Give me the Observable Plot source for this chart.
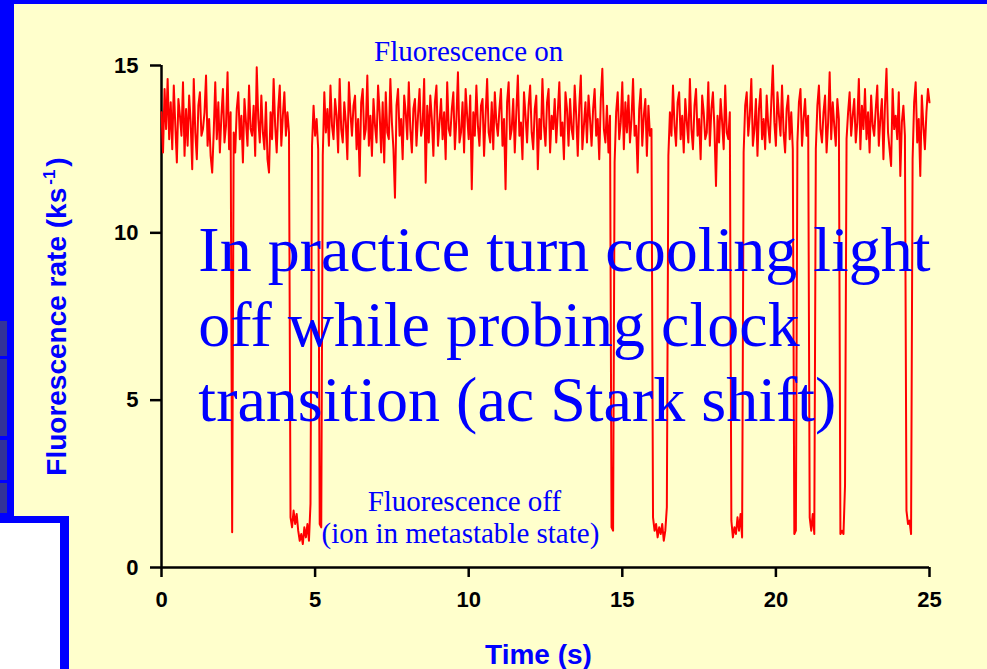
<!DOCTYPE html>
<html><head><meta charset="utf-8">
<script src="https://cdn.jsdelivr.net/npm/d3@7"></script>
<script src="https://cdn.jsdelivr.net/npm/@observablehq/plot@0.6"></script>
<style>
html,body{margin:0;padding:0;background:#ffffcc;width:987px;height:669px;overflow:hidden}
#slide{position:relative;width:987px;height:669px;background:#ffffcc}
.deco{position:absolute}
#chart{position:absolute;left:0;top:0}
#chart svg g[aria-label="x-axis tick label"],#chart svg g[aria-label="y-axis tick label"]{font-weight:bold;font-size:22px;font-family:"Liberation Sans",Arial,sans-serif}
</style></head>
<body>
<div id="slide">
  <div class="deco" style="left:0;top:0;width:987px;height:4px;background:#0000ff"></div>
  <div class="deco" style="left:0;top:0;width:14px;height:523px;background:#0000ff"></div>
  <div class="deco" style="left:0;top:321px;width:7px;height:192px;background:#333399"></div>
  <div class="deco" style="left:0;top:356px;width:7px;height:3px;background:#0000ff"></div>
  <div class="deco" style="left:0;top:436px;width:7px;height:4px;background:#0000ff"></div>
  <div class="deco" style="left:0;top:480px;width:7px;height:3px;background:#0000ff"></div>
  <div class="deco" style="left:0;top:516px;width:69px;height:153px;background:#0000ff"></div>
  <div class="deco" style="left:0;top:523px;width:60px;height:146px;background:#ffffff"></div>
  <div id="chart"></div>
</div>
<script>
// sampling interval of the trace (s)
const step = 0.05;
// fluorescence rate (ks^-1), one row per second
const rate = [
 13.6,12.4,14.3,13.1,14.6,12.8,13.9,12.5,14.4,13.2,12.1,14.0,13.5,12.9,14.5,12.3,13.7,12.6,14.1,13.3,
 11.9,14.6,13.0,12.2,13.8,14.2,12.9,13.1,13.6,14.7,12.6,13.4,12.3,11.8,13.0,14.5,12.8,13.9,12.4,13.5,
 14.3,12.7,13.2,14.8,12.5,13.6,1.05,13.0,12.4,13.7,14.2,12.8,13.5,12.1,14.0,13.3,12.6,14.4,13.1,12.9,
 13.8,12.3,14.95,13.4,12.7,14.1,13.0,12.5,13.9,12.2,11.8,13.6,12.8,14.6,13.2,12.4,13.7,14.4,12.6,13.5,
 14.2,12.9,13.6,13.0,1.5,1.2,1.7,1.3,1.6,1.1,0.8,1.0,0.7,1.2,0.9,1.3,0.8,1.9,12.6,13.8,
 12.9,13.4,12.5,1.3,1.2,12.3,14.2,13.0,13.7,12.6,14.4,13.2,12.8,14.0,13.5,12.4,14.6,13.1,12.7,13.9,
 13.3,12.2,14.5,13.6,12.9,13.8,14.1,12.5,13.4,11.7,13.9,14.3,12.8,13.1,14.7,12.6,13.5,12.3,14.0,13.2,
 12.7,14.4,13.6,12.4,13.9,12.1,14.2,13.0,12.8,14.6,13.3,12.5,11.05,13.8,14.3,12.9,13.4,12.2,14.1,13.6,
 12.8,14.5,13.1,12.4,13.7,14.0,12.6,13.5,14.3,12.9,13.2,14.6,11.5,13.8,12.7,14.1,13.4,12.3,13.9,14.4,
 12.6,13.3,14.0,12.8,13.6,12.2,14.5,13.1,12.9,13.7,14.2,12.5,13.4,14.8,12.7,13.0,13.9,12.4,14.3,13.5,
 12.8,14.1,11.3,13.6,12.9,14.4,13.2,12.6,13.8,14.0,12.3,13.5,14.6,13.0,12.7,13.9,12.5,14.2,13.3,12.9,
 13.7,14.3,12.6,13.4,11.3,13.9,14.5,12.8,13.1,14.0,12.4,13.6,14.7,12.9,13.3,12.2,14.2,13.5,12.7,13.8,
 14.4,13.0,12.5,13.7,14.1,11.9,13.4,12.8,14.6,13.2,12.6,13.9,14.3,12.4,13.5,13.1,14.0,12.7,13.6,14.5,
 12.9,13.3,12.2,14.2,13.7,12.6,14.0,13.1,12.8,14.4,13.5,12.3,13.8,14.7,12.5,13.2,13.9,12.7,14.1,13.4,
 12.6,13.7,14.3,12.9,13.4,12.2,14.0,14.9,13.1,12.7,13.8,12.4,13.5,1.2,1.1,12.1,13.6,14.2,12.8,13.3,
 14.5,12.5,13.9,13.0,14.1,12.7,13.4,14.6,12.9,13.2,11.8,13.7,14.3,12.6,13.5,14.0,12.3,13.8,12.9,13.1,
 1.5,1.1,1.3,0.9,1.2,1.0,1.3,0.8,1.1,1.8,12.3,13.6,12.9,14.4,13.2,12.6,13.9,14.2,12.8,13.5,
 12.4,14.0,13.3,12.7,14.6,13.1,12.5,13.8,14.3,12.9,13.4,12.2,14.1,13.6,12.8,13.0,14.5,12.6,13.7,14.2,
 13.1,11.4,13.5,12.7,14.0,13.3,12.5,14.4,13.0,12.8,13.6,1.4,0.9,1.2,1.0,1.5,1.1,1.6,0.9,12.4,
 13.8,14.2,12.9,13.5,14.6,12.6,13.1,14.0,12.3,13.7,14.3,12.8,13.4,12.5,14.1,13.2,12.7,13.9,15.0,13.3,
 12.6,14.2,13.5,12.9,14.4,13.0,12.4,13.7,14.1,12.8,13.6,12.5,1.0,1.1,12.7,13.9,14.3,12.6,13.4,14.0,
 12.9,13.5,1.5,1.1,1.6,1.0,12.5,13.8,14.4,13.1,12.7,13.6,14.1,12.4,13.3,14.8,12.8,13.9,13.2,12.6,
 14.0,13.4,1.0,1.1,1.0,2.45,12.8,13.6,14.2,12.9,13.5,14.0,12.7,13.3,14.6,12.5,13.8,13.1,14.3,12.8,
 13.6,12.4,14.1,13.2,12.9,13.7,14.4,12.6,13.4,14.0,12.2,13.8,14.9,13.0,12.5,12.0,14.3,13.1,13.5,12.8,
 14.2,11.7,13.3,13.8,12.9,1.7,1.3,1.4,1.0,12.2,13.9,14.5,12.7,13.4,11.7,14.1,13.2,12.5,13.6,14.3,
 13.9
];
const xTicks = [0, 5, 10, 15, 20, 25];
const yTicks = [0, 5, 10, 15];
const xLabel = "Time (s)";
const yLabel = "Fluorescence rate (ks-1)";
// slide annotations (text, anchor position in data units)
const smallNotes = ["Fluorescence on", "Fluorescence off", "(ion in metastable state)"];
const smallNoteX = [10.0, 9.86, 9.73];
const smallNoteY = [15.12, 1.70, 0.72];
const bigLines = ["In practice turn cooling light", "off while probing clock", "transition (ac Stark shift)"];
const bigLineX = [1.2, 1.2, 1.2];
const bigLineY = [8.87, 6.63, 4.39];

const trace = rate.map((v, i) => ({t: i * step, v}));
const small = smallNotes.map((s, i) => ({text: s, x: smallNoteX[i], y: smallNoteY[i]}));
const big = bigLines.map((s, i) => ({text: s, x: bigLineX[i], y: bigLineY[i]}));
const serif = "'Liberation Serif','Times New Roman',Times,serif";
const sans = "'Liberation Sans',Arial,Helvetica,sans-serif";

const chart = Plot.plot({
  width: 987, height: 669,
  marginLeft: 161, marginRight: 58, marginTop: 65, marginBottom: 102,
  x: {domain: [0, 25]},
  y: {domain: [0, 15]},
  style: {background: "transparent", fontFamily: sans, color: "black", overflow: "visible"},
  marks: [
    Plot.axisY({ticks: yTicks, tickSize: 11, tickPadding: 12, fontSize: 22, fontWeight: "bold", strokeWidth: 2.5, label: null}),
    Plot.axisX({ticks: xTicks, tickSize: 10, tickPadding: 14, fontSize: 22, fontWeight: "bold", strokeWidth: 2.5, label: null}),
    Plot.ruleX([0], {stroke: "black", strokeWidth: 2.5}),
    Plot.ruleY([0], {stroke: "black", strokeWidth: 2.5}),
    Plot.line(trace, {x: "t", y: "v", stroke: "#ff0000", strokeWidth: 2}),
    Plot.text(small, {x: "x", y: "y", text: "text", fill: "#0000ff", fontSize: 29, fontFamily: serif, textAnchor: "middle", lineAnchor: "bottom"}),
    Plot.text(big, {x: "x", y: "y", text: "text", fill: "#0000ff", fontSize: 64, fontFamily: serif, textAnchor: "start", lineAnchor: "bottom"}),
    Plot.text([xLabel], {frameAnchor: "bottom", dx: -7, dy: 96, lineAnchor: "bottom", textAnchor: "middle", fill: "#0000ff", fontSize: 28, fontWeight: "bold", fontFamily: sans}),
    Plot.text([yLabel], {frameAnchor: "left", dx: -104, rotate: -90, lineAnchor: "middle", textAnchor: "middle", fill: "#0000ff", fontSize: 28, fontWeight: "bold", fontFamily: sans})
  ]
});
document.getElementById("chart").appendChild(chart);

// superscript for the unit in the y label
d3.select(chart).selectAll("text").each(function() {
  if (this.textContent === yLabel) {
    const t = d3.select(this);
    t.text(null);
    t.append("tspan").text("Fluorescence rate (ks");
    t.append("tspan").attr("font-size", 17).attr("dy", -11).attr("dx", 3).text("-1");
    t.append("tspan").attr("dy", 11).attr("dx", 3).text(")");
  }
});
</script>
</body></html>
